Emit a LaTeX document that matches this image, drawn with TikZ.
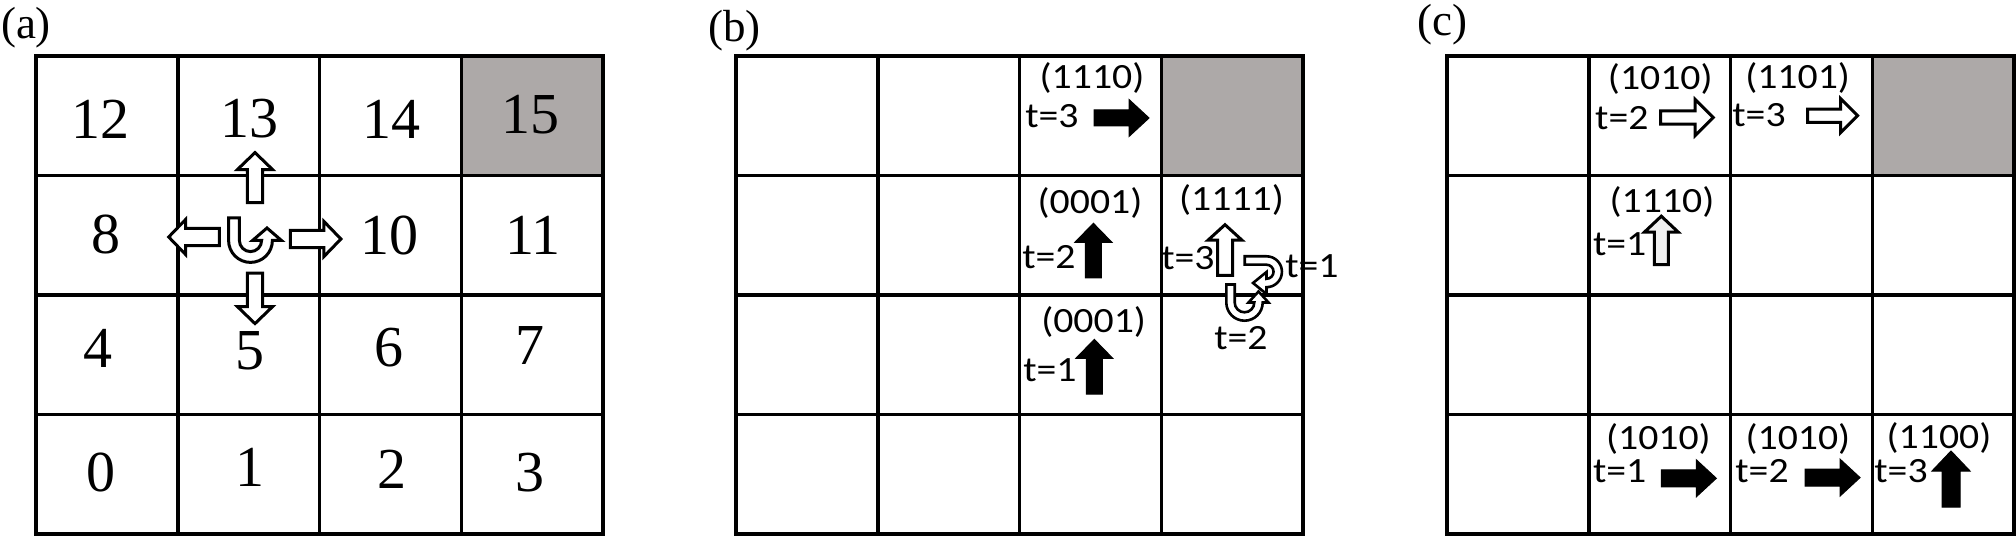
\documentclass[tikz,border=0pt]{standalone}
\usepackage{fontspec}
\setmainfont{Liberation Serif}
\newfontfamily\calfont[FakeStretch=1.12]{Carlito}
\definecolor{cellgray}{RGB}{173,169,168}
\definecolor{lightfill}{RGB}{240,240,240}
\tikzset{
  gridline/.style={line width=3.5pt},
  numlabel/.style={font=\fontsize{58}{60}\selectfont, inner sep=0pt},
  codelabel/.style={font=\calfont\fontsize{35.5}{37}\selectfont, inner sep=0pt},
  panellabel/.style={font=\fontsize{45}{47}\selectfont, inner sep=0pt},
  hollow/.style={draw=black, fill=white, line width=3pt, line join=miter},
  blackarr/.style={draw=black, fill=black, line width=1pt, line join=miter},
}
% block arrow: style, x, y (tail centre), angle (y down: 0 right, 90 down, 180 left, 270 up), length, half shaft, half head, head length
\newcommand\barrow[8]{\draw[shift={(#2,#3)},rotate=#4,#1] (0,-#6) -- ({#5-#8},-#6) -- ({#5-#8},-#7) -- (#5,0) -- ({#5-#8},#7) -- ({#5-#8},#6) -- (0,#6) -- cycle;}
% u-turn arrow: style/transform, x, y (centre of bend), r, half width, tail length, half head, head length
\newcommand\uturn[8]{\draw[shift={(#2,#3)},#1] ({-#4-#5},-#6) -- ({-#4-#5},0) arc[start angle=180,end angle=0,radius={#4+#5}] -- ({#4+#7},0) -- (#4,-#8) -- ({#4-#7},0) -- ({#4-#5},0) arc[start angle=0,end angle=180,radius={#4-#5}] -- ({-#4+#5},-#6) -- cycle;}
% grid: x0
\newcommand\cellgrid[1]{%
  \fill[cellgray] ({#1+3*141.75},56) rectangle ({#1+4*141.75},175.5);
  \foreach \i in {0,...,4} {
    \draw[gridline] ({#1+\i*141.75},56) -- ({#1+\i*141.75},534);
    \draw[gridline] ({#1-1.75},{56+\i*119.5}) -- ({#1+567+1.75},{56+\i*119.5});
  }}
\begin{document}
\begin{tikzpicture}[x=1pt,y=1pt,yscale=-1]
\useasboundingbox (0,0) rectangle (2016,537);
\fill[white] (0,0) rectangle (2016,537);
% ---------- panel labels
\node[panellabel] (la) at (26,28) {(a)};
\node[panellabel] (lb) at (734.5,31) {(b)};
\node[panellabel] (lc) at (1442,25) {(c)};
% ---------- grids
\cellgrid{36}
\cellgrid{736}
\cellgrid{1447}
% ---------- panel (a) numbers
\node[numlabel] (n12) at (100,119) {12};
\node[numlabel] (n13) at (249.5,119) {13};
\node[numlabel] (n14) at (391.6,119) {14};
\node[numlabel] (n15) at (530,115) {15};
\node[numlabel] (n8) at (105.6,234) {8};
\node[numlabel] (n10) at (389,235) {10};
\node[numlabel] (n11) at (533,235) {11};
\node[numlabel] (n4) at (98,348.5) {4};
\node[numlabel] (n5) at (250,351) {5};
\node[numlabel] (n6) at (389,348) {6};
\node[numlabel] (n7) at (530,346) {7};
\node[numlabel] (n0) at (101,472) {0};
\node[numlabel] (n1) at (250,467) {1};
\node[numlabel] (n2) at (392,469) {2};
\node[numlabel] (n3) at (530,473) {3};
% ---------- panel (a) arrows
\barrow{hollow}{255}{202.6}{270}{50}{7.6}{17.6}{17}
\barrow{hollow}{255}{273.1}{90}{50.5}{7.6}{17.6}{17}
\barrow{hollow}{219.3}{237}{180}{50.6}{8.6}{17.6}{17}
\barrow{hollow}{290.4}{239}{0}{50.5}{8.6}{17.6}{17}
\uturn{hollow}{250.5}{240.5}{16.5}{5.4}{22.5}{14.5}{12.5}
% ---------- panel (b)
\node[codelabel] (b1) at (1092,78) {(1110)};
\node[codelabel] (b1t) at (1052,116) {t=3};
\barrow{blackarr}{1094}{118}{0}{55}{8}{18.5}{20}
\node[codelabel] (b2) at (1090,203) {(0001)};
\node[codelabel] (b2t) at (1049,257) {t=2};
\barrow{blackarr}{1093.4}{278}{270}{54.7}{8}{18.5}{19}
\node[codelabel] (b3) at (1093.6,322) {(0001)};
\node[codelabel] (b3t) at (1050,370) {t=1};
\barrow{blackarr}{1094.3}{394}{270}{54.6}{8}{18.5}{19}
\node[codelabel] (b4) at (1231.5,200) {(1111)};
\node[codelabel] (b4a) at (1188,258) {t=3};
\node[codelabel] (b4b) at (1312,266) {t=1};
\node[codelabel] (b4c) at (1241,338) {t=2};
\barrow{hollow}{1225}{275.3}{270}{50.6}{7.5}{17}{15.5}
\uturn{hollow,line width=2.6pt,yscale=-1,rotate=-90}{1266.5}{271.75}{11.25}{4.2}{21.8}{11}{13.5}
\uturn{hollow,line width=2.6pt}{1244.5}{302.5}{14}{4.2}{18}{10}{11}
% ---------- panel (c)
\node[codelabel] (c1) at (1660.3,79) {(1010)};
\node[codelabel] (c1t) at (1621.8,118) {t=2};
\barrow{hollow}{1660.7}{117.5}{0}{52.5}{6.6}{18}{18}
\node[codelabel] (c2) at (1797.6,78) {(1101)};
\node[codelabel] (c2t) at (1759,115) {t=3};
\barrow{hollow}{1807.6}{115.7}{0}{50}{6.6}{17}{17}
\node[codelabel] (c3) at (1662,202) {(1110)};
\node[codelabel] (c3t) at (1619.7,244) {t=1};
\barrow{hollow,fill=lightfill}{1661.3}{264.6}{270}{48.4}{7}{17}{16}
\node[codelabel] (c4) at (1658.4,439) {(1010)};
\node[codelabel] (c4t) at (1619.7,471) {t=1};
\barrow{blackarr}{1661.3}{478.3}{0}{55}{8.5}{18.5}{20}
\node[codelabel] (c5) at (1797.9,439) {(1010)};
\node[codelabel] (c5t) at (1762,471) {t=2};
\barrow{blackarr}{1805}{477.6}{0}{55}{8.5}{18.5}{20}
\node[codelabel] (c6) at (1939,438) {(1100)};
\node[codelabel] (c6t) at (1901,471) {t=3};
\barrow{blackarr}{1951}{507}{270}{56}{9}{19}{20}
\end{tikzpicture}
\end{document}
